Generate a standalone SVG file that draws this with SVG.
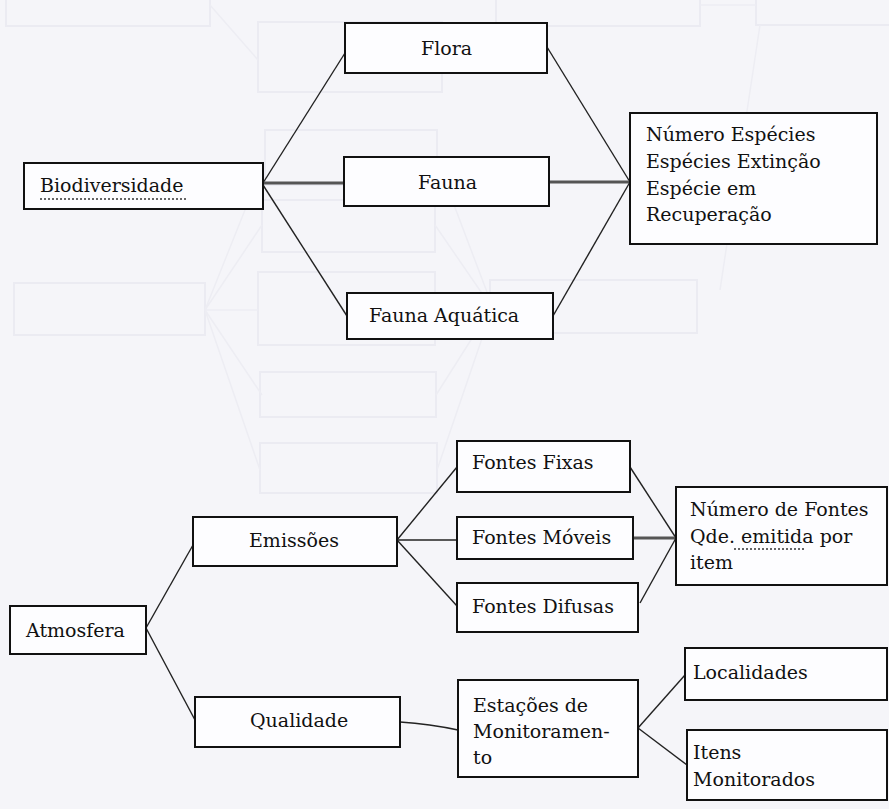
<svg xmlns="http://www.w3.org/2000/svg" width="889" height="809" viewBox="0 0 889 809">
<style>
.bg{fill:#f5f5f9}
.box{fill:#fdfdff;stroke:#111;stroke-width:2}
.t{font-family:"DejaVu Serif","Liberation Serif",serif;font-size:19px;fill:#111}
.ln{stroke:#222;stroke-width:1.4;fill:none}
.thick{stroke:#555;stroke-width:3;fill:none}
.g{fill:none;stroke:#ebebf2;stroke-width:2}
.gl{fill:none;stroke:#ededf3;stroke-width:1.5}
.sq{stroke:#333;stroke-width:1.5;stroke-dasharray:2 2;fill:none}
</style>
<rect class="bg" x="0" y="0" width="889" height="809"/>
<g id="scan-ghost">
<rect class="g" x="6" y="-5" width="204" height="31"/>
<rect class="g" x="496" y="-5" width="204" height="31"/>
<rect class="g" x="756" y="-5" width="140" height="30"/>
<rect class="g" x="258" y="22" width="184" height="70"/>
<rect class="g" x="265" y="130" width="172" height="55"/>
<rect class="g" x="262" y="200" width="173" height="52"/>
<rect class="g" x="14" y="283" width="191" height="52"/>
<rect class="g" x="258" y="272" width="177" height="73"/>
<rect class="g" x="490" y="280" width="207" height="53"/>
<rect class="g" x="260" y="372" width="176" height="45"/>
<rect class="g" x="260" y="443" width="177" height="50"/>
<path class="gl" d="M210,5 L258,60 M700,5 L756,5 M760,25 L720,290 M205,310 L262,225 M205,310 L258,310 M205,310 L262,395 M205,310 L260,470 M205,310 L265,160 M437,160 L490,300 M435,225 L490,305 M435,310 L490,307 M436,395 L490,310 M437,470 L490,315"/>
</g>
<g id="connectors">
<path class="ln" d="M263,183 L345,53"/>
<path class="thick" d="M263,183 L344,183"/>
<path class="ln" d="M263,185 L347,316"/>
<path class="ln" d="M547,47 L630,182"/>
<path class="thick" d="M549,182 L630,182"/>
<path class="ln" d="M553,316 L630,182"/>
<path class="ln" d="M146,628 L193,545"/>
<path class="ln" d="M146,628 L195,720"/>
<path class="ln" d="M397,540 L457,467"/>
<path class="ln" d="M397,540 L457,540"/>
<path class="ln" d="M397,540 L457,606"/>
<path class="ln" d="M630,467 L676,538"/>
<path class="thick" d="M633,538 L676,538"/>
<path class="ln" d="M640,603 L676,538"/>
<path class="ln" d="M400,722 Q430,724 458,730"/>
<path class="ln" d="M638,728 L685,675"/>
<path class="ln" d="M638,728 L687,765"/>
</g>
<g id="flora">
<rect class="box" x="345" y="23" width="202" height="50"/>
<text class="t" x="421" y="55">Flora</text>
</g>
<g id="fauna">
<rect class="box" x="344" y="157" width="205" height="49"/>
<text class="t" x="418" y="189">Fauna</text>
</g>
<g id="biodiversidade">
<rect class="box" x="24" y="163" width="239" height="46"/>
<text class="t" x="40" y="192">Biodiversidade</text>
<path class="sq" d="M40,199 L186,199"/>
</g>
<g id="fauna-aquatica">
<rect class="box" x="347" y="293" width="206" height="46"/>
<text class="t" x="369" y="322">Fauna Aquática</text>
</g>
<g id="numero-especies">
<rect class="box" x="630" y="113" width="247" height="131"/>
<text class="t" x="646" y="141">Número Espécies</text>
<text class="t" x="646" y="168">Espécies Extinção</text>
<text class="t" x="646" y="195">Espécie em</text>
<text class="t" x="646" y="221">Recuperação</text>
</g>
<g id="atmosfera">
<rect class="box" x="10" y="606" width="136" height="48"/>
<text class="t" x="26" y="637">Atmosfera</text>
</g>
<g id="emissoes">
<rect class="box" x="193" y="517" width="204" height="49"/>
<text class="t" x="249" y="547">Emissões</text>
</g>
<g id="qualidade">
<rect class="box" x="195" y="697" width="205" height="50"/>
<text class="t" x="250" y="727">Qualidade</text>
</g>
<g id="fontes-fixas">
<rect class="box" x="457" y="441" width="173" height="51"/>
<text class="t" x="472" y="469">Fontes Fixas</text>
</g>
<g id="fontes-moveis">
<rect class="box" x="457" y="517" width="176" height="42"/>
<text class="t" x="472" y="544">Fontes Móveis</text>
</g>
<g id="fontes-difusas">
<rect class="box" x="457" y="583" width="181" height="49"/>
<text class="t" x="472" y="613">Fontes Difusas</text>
</g>
<g id="numero-fontes">
<rect class="box" x="676" y="487" width="211" height="98"/>
<text class="t" x="690" y="516">Número de Fontes</text>
<text class="t" x="690" y="543">Qde. emitida por</text>
<text class="t" x="690" y="569">item</text>
<path class="sq" d="M734,549 L805,549"/>
</g>
<g id="estacoes">
<rect class="box" x="458" y="680" width="180" height="97"/>
<text class="t" x="473" y="712">Estações de</text>
<text class="t" x="473" y="738">Monitoramen-</text>
<text class="t" x="473" y="764">to</text>
</g>
<g id="localidades">
<rect class="box" x="685" y="648" width="202" height="52"/>
<text class="t" x="693" y="679">Localidades</text>
</g>
<g id="itens">
<rect class="box" x="687" y="730" width="200" height="70"/>
<text class="t" x="693" y="759">Itens</text>
<text class="t" x="693" y="786">Monitorados</text>
</g>
</svg>
